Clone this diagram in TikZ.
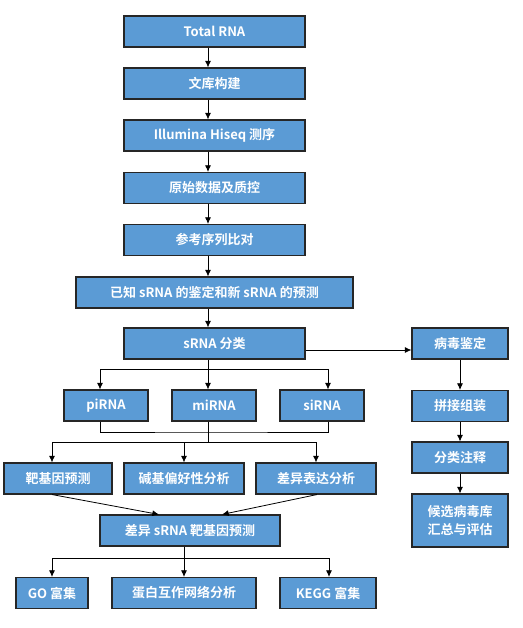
\documentclass[tikz,border=0pt]{standalone}
\usepackage{fontspec}
\setmainfont{Noto Sans CJK SC}[BoldFont={Noto Sans CJK SC Bold}]
\usetikzlibrary{arrows.meta}
\definecolor{boxblue}{RGB}{91,155,213}
\tikzset{
	box/.style={draw=black!85,fill=boxblue,text=white,line width=0.8pt,
		font=\bfseries\fontsize{9.75}{13}\selectfont,
		minimum height=31*0.75pt,inner sep=0pt,align=center},
	w/.style={minimum width=#1*0.75pt},
	arr/.style={-{Latex[length=5pt,width=4.5pt]},line width=0.6pt},
	bus/.style={line width=0.6pt},
}
\begin{document}
\begin{tikzpicture}[x=0.75pt,y=-0.75pt]
		\useasboundingbox (0,0) rectangle (522,628);
		% main column
		\node[box,w=181] (total) at (214.5,31.5) {Total RNA};
		\node[box,w=181] (lib) at (214.5,83.5) {文库构建};
		\node[box,w=181] (seq) at (214.5,135.5) {Illumina Hiseq 测序};
		\node[box,w=181] (qc) at (214.5,188) {原始数据及质控};
		\node[box,w=181] (ref) at (214.5,240) {参考序列比对};
		\node[box,w=277] (known) at (214.5,292.5) {已知 sRNA 的鉴定和新 sRNA 的预测};
		\node[box,w=181] (cls) at (214.5,343.5) {sRNA 分类};
		% sRNA types
		\node[box,w=84] (pi) at (106,405.5) {piRNA};
		\node[box,w=84] (mi) at (214,405.5) {miRNA};
		\node[box,w=84] (si) at (322,405.5) {siRNA};
		% analyses
		\node[box,w=108] (tgt) at (58,478.5) {靶基因预测};
		\node[box,w=120] (bias) at (184,478.5) {碱基偏好性分析};
		\node[box,w=120] (diff) at (316,478.5) {差异表达分析};
		\node[box,w=180] (dtgt) at (190,530.5) {差异 sRNA 靶基因预测};
		\node[box,w=72] (go) at (52,593) {GO 富集};
		\node[box,w=144] (ppi) at (184,593) {蛋白互作网络分析};
		\node[box,w=96] (kegg) at (328,593) {KEGG 富集};
		% virus column
		\node[box,w=96] (virus) at (460,343.5) {病毒鉴定};
		\node[box,w=96] (asm) at (460,406) {拼接组装};
		\node[box,w=96] (ann) at (460,457.5) {分类注释};
		\node[box,w=96,minimum height=53*0.75pt] (cand) at (460,520.5) {候选病毒库\\汇总与评估};
		% columns of the connectors
		\coordinate (spine) at (208,0);
		\coordinate (cpi) at (100,0);
		\coordinate (csi) at (328,0);
		\coordinate (ctgt) at (52,0);
		\coordinate (ckegg) at (329,0);
		\coordinate (bus1) at (208,369);
		\coordinate (bus2) at (208,432);
		\coordinate (bus3) at (208,442);
		\coordinate (bus4) at (184,558);
		\foreach \a/\b in {total/lib,lib/seq,seq/qc,qc/ref,ref/known,known/cls}
			\draw[arr] (\a.south -| spine) -- (\b.north -| spine);
		\draw[bus] (cls.south -| spine) -- (bus1);
		\draw[arr] (bus1) -| (pi.north -| cpi);
		\draw[arr] (bus1) -| (si.north -| csi);
		\draw[arr] (bus1) -- (mi.north -| spine);
		\draw[bus] (pi.south -| cpi) |- (bus2) -| (si.south -| csi);
		\draw[bus] (mi.south -| spine) -- (bus3);
		\draw[arr] (bus3) -| (tgt.north -| ctgt);
		\draw[arr] (bus3) -| (diff.north);
		\draw[arr] (bus3 -| bias.north) -- (bias.north);
		\draw[arr] (tgt.south -| ctgt) -- ([xshift=-31*0.75pt]dtgt.north);
		\draw[arr] ([xshift=1*0.75pt]diff.south) -- ([xshift=32*0.75pt]dtgt.north);
		\draw[bus] (dtgt.south -| bus4) -- (bus4);
		\draw[arr] (bus4) -| (go.north);
		\draw[arr] (bus4) -| (kegg.north -| ckegg);
		\draw[arr] (bus4) -- (ppi.north);
		\draw[arr] ([yshift=-6.5*0.75pt]cls.east) -- ([yshift=-6.5*0.75pt]virus.west);
		\draw[arr] (virus) -- (asm);
		\draw[arr] (asm) -- (ann);
		\draw[arr] (ann) -- (cand);
	\end{tikzpicture}
\end{document}
